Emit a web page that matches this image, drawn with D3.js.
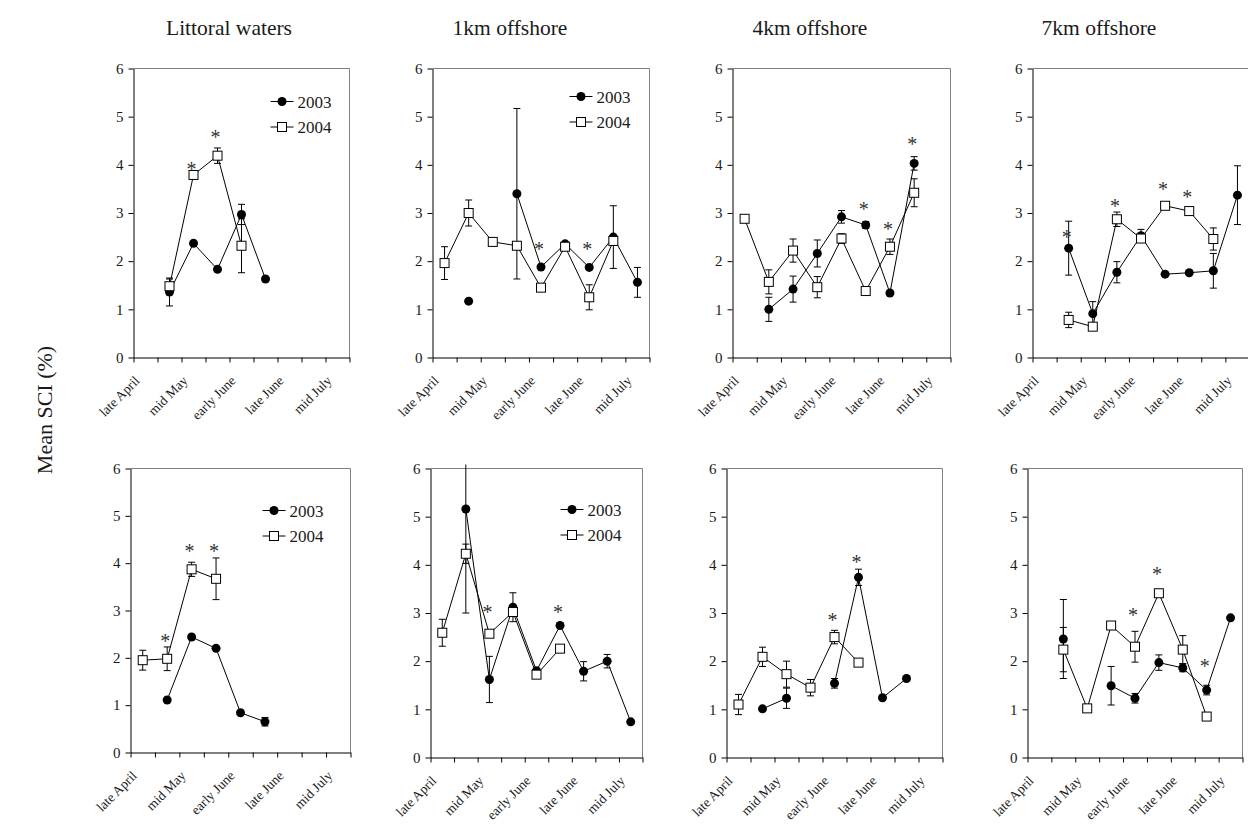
<!DOCTYPE html>
<html><head><meta charset="utf-8">
<script src="https://cdn.jsdelivr.net/npm/d3@7"></script>
<style>body{margin:0;background:#fff} svg{display:block}</style>
</head><body>
<svg id="c" width="1248" height="825"></svg>
<script>
// ---------- DATA ----------
const categories = [0,1,2,3,4,5,6,7,8];            // nine sampling periods
const tickLabels = ["late April","mid May","early June","late June","mid July"];
const tickLabelCats = [0,2,4,6,8];
const yTicks = [0,1,2,3,4,5,6];
const seriesNames = ["2003","2004"];
const panelTitles = ["Littoral waters","1km offshore","4km offshore","7km offshore"];
const yAxisTitle = "Mean SCI (%)";

// Top row
const litTop2003     = [null,1.36,2.37,1.83,2.97,1.63,null,null,null];
const litTop2003Err  = [0,0.29,0,0,0.21,0,0,0,0];
const litTop2004     = [null,1.48,3.79,4.19,2.32,null,null,null,null];
const litTop2004Err  = [0,0.15,0,0.16,0.56,0,0,0,0];
const litTopStars    = [[2,3.97],[3,4.62]];

const km1Top2003     = [null,1.17,null,3.40,1.88,2.36,1.87,2.50,1.56];
const km1Top2003Err  = [0,0,0,1.77,0,0,0,0.65,0.31];
const km1Top2004     = [1.96,3.00,2.40,2.32,1.45,2.30,1.25,2.42,null];
const km1Top2004Err  = [0.34,0.27,0,0,0,0,0.26,0,0];
const km1TopStars    = [[4,2.31],[6,2.31]];

const km4Top2003     = [null,1.00,1.42,2.16,2.92,2.75,1.34,4.03,null];
const km4Top2003Err  = [0,0.25,0.27,0.28,0.13,0.07,0,0.14,0];
const km4Top2004     = [2.88,1.57,2.22,1.46,2.47,1.38,2.30,3.42,null];
const km4Top2004Err  = [0,0.25,0.24,0.22,0.10,0,0.16,0.29,0];
const km4TopStars    = [[5,3.14],[6,2.72],[7,4.48]];

const km7Top2003     = [null,2.27,0.91,1.77,2.53,1.73,1.76,1.80,3.37];
const km7Top2003Err  = [0,0.56,0.25,0.22,0.13,0,0,0.36,0.61];
const km7Top2004     = [null,0.78,0.64,2.87,2.47,3.15,3.04,2.46,null];
const km7Top2004Err  = [0,0.16,0,0.15,0.07,0,0.06,0.23,0];
const km7TopStars    = [[1,2.56],[3,3.20],[5,3.54],[6,3.39]];

// Bottom row
const litBot2003     = [null,1.11,2.44,2.20,0.84,0.65,null,null,null];
const litBot2003Err  = [0,0,0,0,0,0.09,0,0,0];
const litBot2004     = [1.95,1.98,3.87,3.67,null,null,null,null,null];
const litBot2004Err  = [0.21,0.25,0.15,0.44,0,0,0,0,0];
const litBotStars    = [[1,2.41],[2,4.31],[3,4.31]];

const km1Bot2003     = [null,5.16,1.62,3.12,1.80,2.74,1.79,2.00,0.74];
const km1Bot2003Err  = [0,2.16,0.48,0.30,0,0,0.20,0.14,0];
const km1Bot2004     = [2.59,4.23,2.57,3.02,1.72,2.26,null,null,null];
const km1Bot2004Err  = [0.28,0.20,0,0.08,0,0,0,0,0];
const km1BotStars    = [[2,3.07],[5,3.07]];

const km4Bot2003     = [null,1.01,1.23,null,1.54,3.74,1.24,1.64,null];
const km4Bot2003Err  = [0,0,0.21,0,0.10,0.17,0,0.04,0];
const km4Bot2004     = [1.10,2.09,1.73,1.45,2.50,1.97,null,null,null];
const km4Bot2004Err  = [0.21,0.20,0.27,0.17,0.14,0.04,0,0,0];
const km4BotStars    = [[4,2.90],[5,4.10]];

const km7Bot2003     = [null,2.46,null,1.49,1.23,1.97,1.86,1.40,2.90];
const km7Bot2003Err  = [0,0.82,0,0.40,0.10,0.16,0.08,0.10,0];
const km7Bot2004     = [null,2.24,1.02,2.74,2.30,3.41,2.24,0.85,null];
const km7Bot2004Err  = [0,0.46,0,0,0.32,0,0.29,0,0];
const km7BotStars    = [[4,3.00],[5,3.85],[7,1.95]];

// ---------- LAYOUT ----------
const panels = [
  {s03:litTop2003,e03:litTop2003Err,s04:litTop2004,e04:litTop2004Err,stars:litTopStars, L:{x0:133.5,x1:349.5,y0:68.5,y1:357.5}, legend:[137,33]},
  {s03:km1Top2003,e03:km1Top2003Err,s04:km1Top2004,e04:km1Top2004Err,stars:km1TopStars, L:{x0:432.5,x1:649.5,y0:68.5,y1:357.5}, legend:[137,28]},
  {s03:km4Top2003,e03:km4Top2003Err,s04:km4Top2004,e04:km4Top2004Err,stars:km4TopStars, L:{x0:732.5,x1:950.5,y0:68.5,y1:357.5}, legend:null},
  {s03:km7Top2003,e03:km7Top2003Err,s04:km7Top2004,e04:km7Top2004Err,stars:km7TopStars, L:{x0:1032.5,x1:1249.5,y0:68.5,y1:357.5}, legend:null},
  {s03:litBot2003,e03:litBot2003Err,s04:litBot2004,e04:litBot2004Err,stars:litBotStars, L:{x0:130.5,x1:350.5,y0:468.5,y1:752.5}, legend:[132,42]},
  {s03:km1Bot2003,e03:km1Bot2003Err,s04:km1Bot2004,e04:km1Bot2004Err,stars:km1BotStars, L:{x0:430.5,x1:642.5,y0:468.5,y1:757.5}, legend:[130,41]},
  {s03:km4Bot2003,e03:km4Bot2003Err,s04:km4Bot2004,e04:km4Bot2004Err,stars:km4BotStars, L:{x0:726.5,x1:942.5,y0:468.5,y1:757.5}, legend:null},
  {s03:km7Bot2003,e03:km7Bot2003Err,s04:km7Bot2004,e04:km7Bot2004Err,stars:km7BotStars, L:{x0:1027.5,x1:1242.5,y0:468.5,y1:757.5}, legend:null}
];
const titleX = [229,510,810,1099];
const FONT = "'Liberation Serif','Times New Roman',Times,serif";
const TXT = "#1a1a1a";
const STAR_FS = 20;

const svg = d3.select("#c");

// titles
panelTitles.forEach((t,i)=>{
  svg.append("text").attr("x",titleX[i]).attr("y",35).attr("text-anchor","middle")
    .attr("font-family",FONT).attr("font-size",21.5).attr("fill",TXT).text(t);
});
svg.append("text").attr("transform","translate(52,410) rotate(-90)").attr("text-anchor","middle")
  .attr("font-family",FONT).attr("font-size",22).attr("fill",TXT).text(yAxisTitle);

function drawMarker(g, kind, cx, cy){
  if(kind==="2003"){
    g.append("circle").attr("cx",cx).attr("cy",cy).attr("r",4.5).attr("fill","#000");
  } else {
    g.append("rect").attr("x",cx-4.5).attr("y",cy-4.5).attr("width",9).attr("height",9)
      .attr("fill","#fff").attr("stroke","#000").attr("stroke-width",1);
  }
}

panels.forEach((p,pi)=>{
  const L = p.L;
  const x = d3.scaleBand().domain(categories).range([L.x0,L.x1]).padding(0);
  const xb = d3.scaleLinear().domain([0,categories.length]).range([L.x0,L.x1]);
  const y = d3.scaleLinear().domain([0,6]).range([L.y1,L.y0]);
  const cx = c => x(c)+x.bandwidth()/2;
  const g = svg.append("g");

  const clipId = "clip"+pi;
  svg.append("clipPath").attr("id",clipId).append("rect")
    .attr("x",L.x0-10).attr("y",L.y0-4).attr("width",L.x1-L.x0+20).attr("height",L.y1-L.y0+4);

  // frame top/right
  g.append("path").attr("d",`M${L.x0},${L.y0}H${L.x1}V${L.y1}`)
    .attr("fill","none").attr("stroke","#808080").attr("stroke-width",1);

  // y axis
  const ya = g.append("g").attr("transform",`translate(${L.x0},0)`)
    .call(d3.axisLeft(y).tickValues(yTicks).tickSize(5).tickSizeOuter(0).tickPadding(5).tickFormat(d3.format("d")));
  ya.attr("font-family",FONT).attr("font-size",15);
  ya.select(".domain").attr("stroke","#000");
  ya.selectAll(".tick line").attr("stroke","#000");
  ya.selectAll("text").attr("font-family",FONT).attr("font-size",15).attr("fill",TXT);

  // x axis (ticks at category boundaries)
  const xa = g.append("g").attr("transform",`translate(0,${L.y1})`)
    .call(d3.axisBottom(xb).tickValues(d3.range(categories.length+1)).tickSize(5).tickSizeOuter(0).tickFormat(""));
  xa.select(".domain").attr("stroke","#000");
  xa.selectAll(".tick line").attr("stroke","#000");

  // rotated category labels
  tickLabelCats.forEach((c,k)=>{
    const ax = cx(c)-5, ay = L.y1+24;
    g.append("text").attr("transform",`translate(${ax},${ay}) rotate(-45)`)
      .attr("text-anchor","end").attr("font-family",FONT).attr("font-size",13.5).attr("fill",TXT)
      .text(tickLabels[k]);
  });

  const plot = g.append("g");
  const series = [["2003",p.s03,p.e03],["2004",p.s04,p.e04]];
  const line = d3.line().defined(d=>d.v!=null).x(d=>cx(d.c)).y(d=>y(d.v));

  series.forEach(([name,vals,errs])=>{
    const pts = categories.map((c,i)=>({c, v:vals[i], e:errs[i]}));
    plot.append("path").attr("d",line(pts)).attr("fill","none").attr("stroke","#000").attr("stroke-width",1);
    const eg = plot.append("g").attr("clip-path",`url(#${clipId})`);
    pts.filter(d=>d.v!=null && d.e>0).forEach(d=>{
      const X = cx(d.c), t = y(d.v+d.e), b = y(d.v-d.e);
      eg.append("path").attr("d",`M${X},${t}V${b}M${X-3.5},${t}H${X+3.5}M${X-3.5},${b}H${X+3.5}`)
        .attr("stroke","#000").attr("stroke-width",1).attr("fill","none");
    });
  });
  series.forEach(([name,vals])=>{
    categories.forEach((c,i)=>{ if(vals[i]!=null) drawMarker(plot,name,cx(c),y(vals[i])); });
  });

  // significance asterisks
  p.stars.forEach(([c,v])=>{
    g.append("text").attr("x",cx(c)-2).attr("y",y(v)+0.47*STAR_FS).attr("text-anchor","middle")
      .attr("font-family",FONT).attr("font-size",STAR_FS).attr("fill","#333").text("*");
  });

  // legend
  if(p.legend){
    const lx = L.x0+p.legend[0], ly = L.y0+p.legend[1];
    seriesNames.forEach((n,k)=>{
      const yy = ly + k*25.5;
      g.append("line").attr("x1",lx).attr("x2",lx+23).attr("y1",yy).attr("y2",yy).attr("stroke","#000");
      drawMarker(g,n,lx+11.5,yy);
      g.append("text").attr("x",lx+27).attr("y",yy+6).attr("font-family",FONT).attr("font-size",17)
        .attr("fill",TXT).text(n);
    });
  }
});
</script>
</body></html>
